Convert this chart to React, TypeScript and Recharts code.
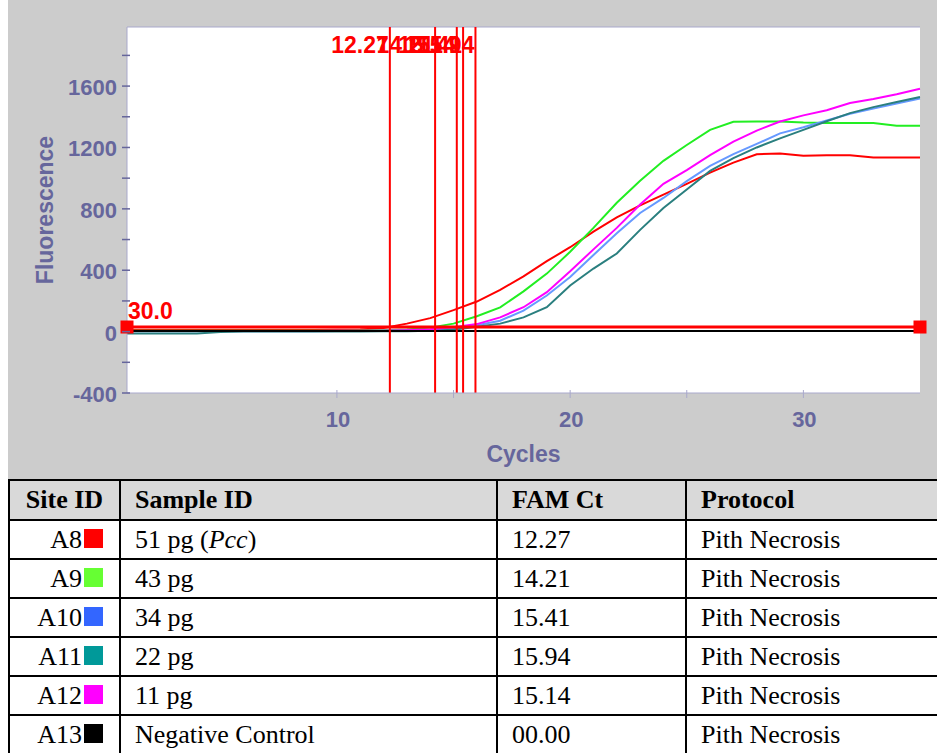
import { LineChart, Line, XAxis, YAxis, ReferenceLine, ReferenceDot, CartesianGrid } from "recharts";

const cycles = [1, 2, 3, 4, 5, 6, 7, 8, 9, 10, 11, 12, 13, 14, 15, 16, 17, 18, 19, 20, 21, 22, 23, 24, 25, 26, 27, 28, 29, 30, 31, 32, 33, 34, 35];
const a8 = [10, 10, 10, 10, 10, 10, 10, 11, 11, 12, 14, 24, 52, 88, 140, 196, 272, 360, 459, 550, 652, 744, 823, 893, 963, 1036, 1101, 1156, 1161, 1146, 1150, 1150, 1135, 1135, 1135];
const a9 = [5, 5, 5, 5, 5, 5, 5, 5, 6, 6, 7, 9, 13, 26, 52, 100, 158, 262, 378, 520, 676, 840, 983, 1113, 1216, 1315, 1367, 1370, 1370, 1362, 1360, 1360, 1360, 1342, 1342];
const a10 = [3, 3, 3, 3, 3, 3, 3, 3, 3, 4, 4, 5, 7, 12, 22, 42, 71, 137, 235, 356, 499, 641, 773, 871, 981, 1080, 1157, 1223, 1292, 1332, 1376, 1420, 1453, 1486, 1519];
const a11 = [-12, -12, -12, -12, -2, 0, 0, 0, 0, 1, 1, 2, 3, 5, 12, 31, 52, 93, 159, 301, 411, 509, 663, 805, 926, 1047, 1130, 1200, 1259, 1315, 1371, 1424, 1463, 1496, 1529];
const a12 = [4, 4, 4, 4, 4, 4, 4, 4, 4, 5, 5, 6, 9, 15, 28, 49, 93, 159, 257, 393, 536, 676, 828, 963, 1053, 1150, 1238, 1310, 1369, 1409, 1442, 1490, 1516, 1547, 1582];
const a13 = [4, 4, 4, 4, 4, 4, 4, 4, 4, 4, 4, 4, 4, 4, 4, 4, 4, 4, 4, 4, 4, 4, 4, 4, 4, 4, 4, 4, 4, 4, 4, 4, 4, 4, 4];

const ctValues = [12.27, 14.21, 15.41, 15.94, 15.14];
const threshold = 30;
const xTicks = [10, 15, 20, 25, 30];
const yTicks = [-400, -200, 0, 200, 400, 600, 800, 1000, 1200, 1400, 1600, 1800];

const siteIds = ["A8", "A9", "A10", "A11", "A12", "A13"];
const sampleIds = ["51 pg", "43 pg", "34 pg", "22 pg", "11 pg", "Negative Control"];
const ctTexts = ["12.27", "14.21", "15.41", "15.94", "15.14", "00.00"];
const protocols = ["Pith Necrosis", "Pith Necrosis", "Pith Necrosis", "Pith Necrosis", "Pith Necrosis", "Pith Necrosis"];
const swatchColors = ["#ff0000", "#66ff33", "#3366ff", "#009999", "#ff00ff", "#000000"];

const series = [
  { key: "a8", values: a8, color: "#ff0000" },
  { key: "a9", values: a9, color: "#22ee22" },
  { key: "a10", values: a10, color: "#6699ff" },
  { key: "a11", values: a11, color: "#2a7f7f" },
  { key: "a12", values: a12, color: "#ff00ff" },
  { key: "a13", values: a13, color: "#000000" },
];

const data = cycles.map((c, i) => {
  const row: Record<string, number> = { cycle: c };
  series.forEach((s) => (row[s.key] = s.values[i]));
  return row;
});

const AXIS_TEXT = "#66669c";
const AXIS_LINE = "#a9a9cc";
const SANS = '"Liberation Sans", Arial, sans-serif';
const SERIF = '"Liberation Serif", "Times New Roman", serif';

function YTick(props: any) {
  const { x, y, payload } = props;
  const v = payload.value;
  return (
    <g>
      <line x1={x - 5} x2={x + 3} y1={y} y2={y} stroke={AXIS_TEXT} strokeWidth={1.5} />
      {v % 400 === 0 && (
        <text x={x - 10} y={y + 9} textAnchor="end" fill={AXIS_TEXT} fontFamily={SANS} fontWeight="bold" fontSize={22}>
          {v}
        </text>
      )}
    </g>
  );
}

function XTick(props: any) {
  const { x, y, payload } = props;
  const v = payload.value;
  return (
    <g>
      <line x1={x} x2={x} y1={y - 3} y2={y + 5} stroke={AXIS_LINE} strokeWidth={1} />
      {v % 10 === 0 && (
        <text x={x + 1} y={y + 34} textAnchor="middle" fill={AXIS_TEXT} fontFamily={SANS} fontWeight="bold" fontSize={22}>
          {v}
        </text>
      )}
    </g>
  );
}

function YLabel(props: any) {
  const { viewBox } = props;
  const cx = viewBox.x - 2;
  const cy = viewBox.y + viewBox.height / 2;
  return (
    <text x={cx} y={cy} transform={`rotate(-90 ${cx} ${cy})`} textAnchor="middle" dominantBaseline="central" fill={AXIS_TEXT} fontFamily={SANS} fontWeight="bold" fontSize={23}>
      Fluorescence
    </text>
  );
}

function XLabel(props: any) {
  const { viewBox } = props;
  return (
    <text x={viewBox.x + viewBox.width / 2} y={viewBox.y + 69} textAnchor="middle" fill={AXIS_TEXT} fontFamily={SANS} fontWeight="bold" fontSize={23}>
      Cycles
    </text>
  );
}

function CtLabel(props: any) {
  const { viewBox, text } = props;
  return (
    <text x={viewBox.x - 1} y={viewBox.y + 26} textAnchor="end" fill="#ff0000" fontFamily={SANS} fontWeight="bold" fontSize={23}>
      {text}
    </text>
  );
}

function ThresholdLabel(props: any) {
  const { viewBox } = props;
  return (
    <text x={viewBox.x + 1} y={viewBox.y - 8} textAnchor="start" fill="#ff0000" fontFamily={SANS} fontWeight="bold" fontSize={23}>
      {threshold.toFixed(1)}
    </text>
  );
}

const square = (p: any) => <rect x={p.cx - 6.5} y={p.cy - 6.5} width={13} height={13} fill="#ff0000" />;

const cellBase: React.CSSProperties = {
  border: "2px solid #000",
  padding: "0 14px",
  whiteSpace: "nowrap",
};

export default function App() {
  return (
    <div style={{ position: "absolute", left: 0, top: 0, width: 937, height: 753, overflow: "hidden", background: "#fff" }}>
      <div style={{ position: "absolute", left: 8, top: 0, width: 929, height: 479, background: "#cccccc" }}>
        <LineChart width={929} height={479} data={data} margin={{ top: 27, right: 17, left: 39, bottom: 0 }}>
          <CartesianGrid horizontal={false} vertical={false} fill="#ffffff" fillOpacity={1} stroke="none" />
          <XAxis
            type="number"
            dataKey="cycle"
            domain={[1, 35]}
            ticks={xTicks}
            interval={0}
            height={86}
            tickSize={0}
            tickMargin={0}
            tickLine={false}
            tick={<XTick />}
            axisLine={{ stroke: AXIS_LINE }}
            label={<XLabel />}
          />
          <YAxis
            type="number"
            domain={[-400, 1985]}
            ticks={yTicks}
            interval={0}
            width={80}
            allowDataOverflow
            tickSize={0}
            tickMargin={0}
            tickLine={false}
            tick={<YTick />}
            axisLine={{ stroke: AXIS_LINE }}
            label={<YLabel />}
          />
          {series.map((s) => (
            <Line key={s.key} type="linear" dataKey={s.key} stroke={s.color} strokeWidth={2} dot={false} isAnimationActive={false} />
          ))}
          <ReferenceLine y={1985} stroke={AXIS_LINE} strokeWidth={1} />
          <ReferenceLine y={threshold} stroke="#ff0000" strokeWidth={3} label={<ThresholdLabel />} />
          {ctValues.map((ct) => (
            <ReferenceLine key={ct} x={ct} stroke="#ff0000" strokeWidth={2} label={<CtLabel text={ct.toFixed(2)} />} />
          ))}
          <ReferenceDot x={1} y={threshold} shape={square} ifOverflow="visible" />
          <ReferenceDot x={35} y={threshold} shape={square} ifOverflow="visible" />
        </LineChart>
      </div>
      <table
        style={{
          position: "absolute",
          left: 8,
          top: 479,
          borderCollapse: "collapse",
          fontFamily: SERIF,
          fontSize: 26,
          color: "#000",
          tableLayout: "fixed",
          width: 940,
        }}
      >
        <colgroup>
          <col style={{ width: 111 }} />
          <col style={{ width: 377 }} />
          <col style={{ width: 189 }} />
          <col style={{ width: 263 }} />
        </colgroup>
        <thead>
          <tr style={{ height: 40, background: "#d9d9d9", fontWeight: "bold" }}>
            <th style={{ ...cellBase, textAlign: "center", padding: 0 }}>Site ID</th>
            <th style={{ ...cellBase, textAlign: "left" }}>Sample ID</th>
            <th style={{ ...cellBase, textAlign: "left" }}>FAM Ct</th>
            <th style={{ ...cellBase, textAlign: "left" }}>Protocol</th>
          </tr>
        </thead>
        <tbody>
          {siteIds.map((id, i) => (
            <tr key={id} style={{ height: 39 }}>
              <td style={{ ...cellBase, textAlign: "right", padding: "0 16px 0 0" }}>
                {id}
                <span style={{ display: "inline-block", width: 19, height: 19, marginLeft: 2, background: swatchColors[i] }} />
              </td>
              <td style={cellBase}>
                {sampleIds[i]}
                {i === 0 && (
                  <>
                    {" ("}
                    <i>Pcc</i>
                    {")"}
                  </>
                )}
              </td>
              <td style={cellBase}>{ctTexts[i]}</td>
              <td style={cellBase}>{protocols[i]}</td>
            </tr>
          ))}
        </tbody>
      </table>
    </div>
  );
}
